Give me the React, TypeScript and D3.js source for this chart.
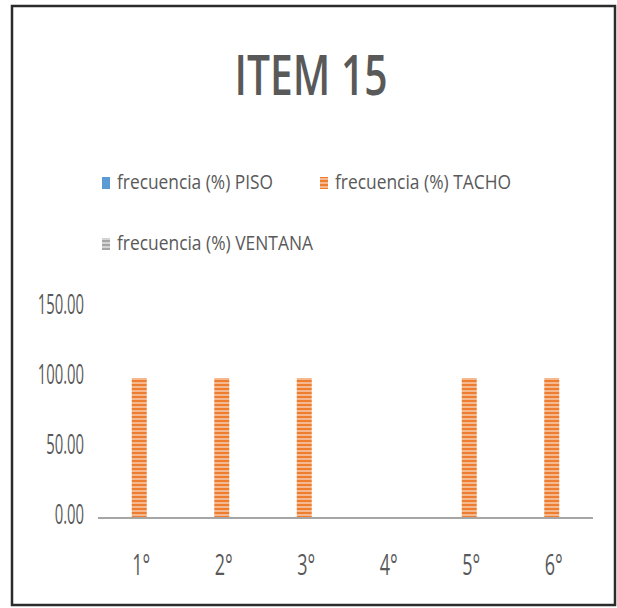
import { useEffect, useRef } from 'react'
import * as d3 from 'd3'

const categories = ['1°', '2°', '3°', '4°', '5°', '6°']
const seriesNames = ['frecuencia (%) PISO', 'frecuencia (%) TACHO', 'frecuencia (%) VENTANA']
const piso = [0, 0, 0, 0, 0, 0]
const tacho = [100, 100, 100, 0, 100, 100]
const ventana = [0, 0, 0, 0, 0, 0]
const yTicks = [0, 50, 100, 150]

const W = 617
const H = 608

export default function App() {
  const ref = useRef<SVGSVGElement>(null)

  useEffect(() => {
    if (!ref.current) return
    const svg = d3.select(ref.current)
    svg.selectAll('*').remove()

    const textColor = '#595959'
    const font = "'Open Sans', sans-serif"

    // patterns for the striped fills
    const defs = svg.append('defs')
    const stripes = (id: string, dark: string, light: string) => {
      const p = defs.append('pattern')
        .attr('id', id)
        .attr('patternUnits', 'userSpaceOnUse')
        .attr('width', 8)
        .attr('height', 4)
      p.append('rect').attr('width', 8).attr('height', 4).attr('fill', light)
      p.append('rect').attr('width', 8).attr('height', 2).attr('fill', dark)
    }
    stripes('tachoFill', '#ED7D31', '#F6B88E')
    stripes('ventanaFill', '#A5A5A5', '#D4D4D4')

    const fills = ['#5B9BD5', 'url(#tachoFill)', 'url(#ventanaFill)']

    // outer frame
    svg.append('rect')
      .attr('x', 12).attr('y', 6)
      .attr('width', 603).attr('height', 599)
      .attr('fill', '#fff')
      .attr('stroke', '#2b2b2b')
      .attr('stroke-width', 2.5)

    // title
    svg.append('text')
      .attr('x', 311).attr('y', 95)
      .attr('text-anchor', 'middle')
      .attr('font-family', font)
      .attr('font-size', 56)
      .attr('font-weight', 600)
      .attr('fill', textColor)
      .attr('textLength', 153)
      .attr('lengthAdjust', 'spacingAndGlyphs')
      .text('ITEM 15')

    // legend
    const legendItems = [
      { x: 102, y: 189, w: 156 },
      { x: 320, y: 189, w: 176 },
      { x: 102, y: 250, w: 196 },
    ]
    legendItems.forEach((it, i) => {
      svg.append('rect')
        .attr('x', it.x).attr('y', it.y - 12)
        .attr('width', 8).attr('height', 12)
        .attr('fill', fills[i])
      svg.append('text')
        .attr('x', it.x + 15).attr('y', it.y)
        .attr('font-family', font)
        .attr('font-size', 20)
        .attr('fill', textColor)
        .attr('textLength', it.w)
        .attr('lengthAdjust', 'spacingAndGlyphs')
        .text(seriesNames[i])
    })

    // scales
    const x0 = d3.scaleBand<string>()
      .domain(categories)
      .range([98, 593])
      .paddingInner(0.455)
      .paddingOuter(0.2275)

    const x1 = d3.scaleBand<string>()
      .domain(seriesNames)
      .range([0, x0.bandwidth()])

    const y = d3.scaleLinear()
      .domain([0, 150])
      .range([518, 308])

    const data = categories.map((c, i) => ({
      cat: c,
      values: [piso[i], tacho[i], ventana[i]],
    }))

    // bars
    const groups = svg.append('g')
      .selectAll('g')
      .data(data)
      .enter().append('g')
      .attr('transform', d => `translate(${x0(d.cat)},0)`)

    groups.selectAll('rect')
      .data(d => d.values.map((v, i) => ({ v, i })).filter(e => e.v > 0))
      .enter().append('rect')
      .attr('x', d => x1(seriesNames[d.i]) || 0)
      .attr('y', d => y(d.v))
      .attr('width', x1.bandwidth())
      .attr('height', d => y(0) - y(d.v))
      .attr('fill', d => fills[d.i])

    // x axis line
    svg.append('line')
      .attr('x1', 98).attr('x2', 593)
      .attr('y1', y(0)).attr('y2', y(0))
      .attr('stroke', '#A6A6A6')
      .attr('stroke-width', 2)

    // y tick labels
    svg.append('g')
      .selectAll('text')
      .data(yTicks)
      .enter().append('text')
      .attr('transform', d => `translate(84,${y(d) + 6}) scale(0.55,1)`)
      .attr('text-anchor', 'end')
      .attr('font-family', font)
      .attr('font-size', 27)
      .attr('fill', textColor)
      .text(d => d3.format('.2f')(d))

    // x tick labels
    svg.append('g')
      .selectAll('text')
      .data(categories)
      .enter().append('text')
      .attr('transform', d => `translate(${(x0(d) || 0) + x0.bandwidth() / 2 + 2},575) scale(0.6,1)`)
      .attr('text-anchor', 'middle')
      .attr('font-family', font)
      .attr('font-size', 30)
      .attr('fill', textColor)
      .text(d => d)
  }, [])

  return (
    <svg
      ref={ref}
      width={W}
      height={H}
      style={{ position: 'absolute', left: 0, top: 0, background: '#fff' }}
    />
  )
}
